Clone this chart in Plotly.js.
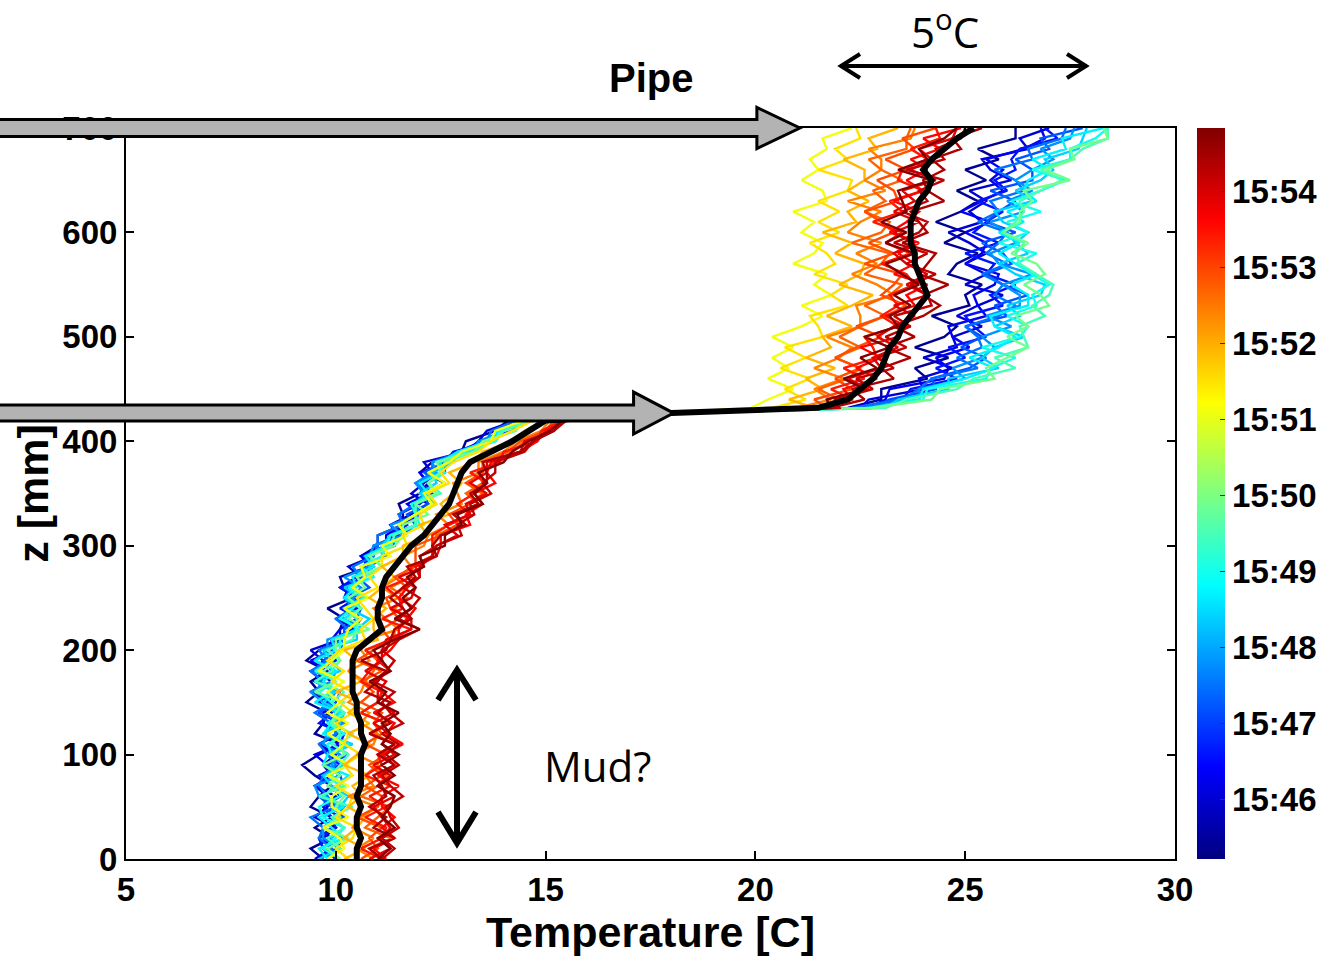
<!DOCTYPE html>
<html>
<head>
<meta charset="utf-8">
<script src="https://cdn.plot.ly/plotly-3.0.1.min.js"></script>
<style>
  html, body { margin: 0; padding: 0; background: #ffffff; }
  #chart { width: 1338px; height: 961px; }
</style>
</head>
<body>
<div id="chart"></div>
<script>
// Height of each sample above the bottom, mm
const depthMm = [0,10,20,30,40,50,60,70,80,90,100,110,120,130,140,150,160,170,180,190,
  200,210,220,230,240,250,260,270,280,290,300,310,320,330,340,350,360,370,380,390,400,410,420,
  427,432,440,450,460,470,480,490,500,510,520,530,540,550,560,570,580,590,600,610,620,630,640,
  650,660,670,680,690,700];

// Time of each profile, minutes past 15:00
const profileMinutes = [45.4, 46.0, 46.3, 46.6, 47.2, 47.5, 47.8, 48.4, 48.7, 49.0, 49.5, 49.9,
  51.1, 51.5, 51.9, 52.4, 52.7, 52.9, 53.4, 53.6, 53.9, 54.2, 54.4, 54.8];

// Temperature profiles [°C], one row per time, sampled at depthMm
const profileTemps = [
  [9.7,9.4,9.9,9.5,9.9,9.4,9.6,9.9,9.5,9.2,9.6,10.1,9.5,9.7,9.8,9.3,9.6,9.4,9.8,9.3,9.6,10.1,10.1,10.2,9.8,10.4,10.2,10.1,10.8,10.6,11.0,11.0,11.6,11.6,11.5,12.0,12.2,12.0,12.3,13.0,13.1,13.8,14.1, 17.6, 22.2,23.0,23.0,24.1,23.8,24.6,23.8,24.5,24.8,24.2,25.1,25.0,25.4,24.6,24.8,25.3,24.5,25.0,24.3,24.9,25.3,24.8,25.5,25.0,25.8,25.3,26.2,26.2],
  [9.5,9.9,9.7,10.0,9.5,9.8,10.0,9.5,9.9,9.7,10.0,9.6,10.1,9.7,9.7,9.9,9.4,9.9,9.5,9.7,9.4,10.1,10.5,10.0,10.5,10.2,10.3,10.6,10.3,10.9,10.9,11.5,11.3,11.8,12.2,11.8,12.1,12.3,12.1,13.1,13.4,13.6,14.3, 17.8, 22.5,22.7,24.0,23.9,24.7,24.0,24.8,24.7,25.4,24.8,25.3,25.9,25.0,25.5,25.0,25.5,25.1,24.6,25.4,25.1,25.5,25.1,26.1,25.6,25.4,26.5,26.3,27.0],
  [10.0,9.7,9.6,9.9,10.1,9.7,9.8,9.5,10.1,9.8,9.5,10.1,9.8,10.1,9.6,9.8,10.0,9.5,9.8,9.4,10.0,9.9,10.1,10.5,10.2,10.5,10.1,10.5,10.9,10.6,11.2,11.2,11.6,12.0,11.7,12.2,12.2,12.0,12.7,12.9,13.5,14.0,14.2, 17.9, 22.7,23.1,23.2,24.5,24.6,24.3,25.1,24.7,24.6,25.5,25.3,25.2,25.7,25.8,25.0,25.4,25.5,25.0,25.6,24.9,25.4,25.9,25.6,25.9,25.5,26.4,26.9,26.8],
  [10.0,9.7,9.6,10.0,9.9,9.7,10.1,9.9,9.6,10.1,9.8,10.1,10.2,9.6,9.9,9.6,9.9,9.7,9.4,10.0,9.9,9.9,10.4,10.6,10.1,10.5,10.1,10.7,10.7,10.7,11.4,11.3,11.7,11.5,12.0,12.3,12.0,12.6,12.6,12.8,13.7,13.9,14.2, 17.9, 22.3,23.5,23.7,24.8,24.3,25.0,24.6,25.5,25.2,25.0,25.9,25.6,26.2,25.5,25.7,25.0,25.8,25.2,25.5,25.9,25.3,26.0,25.7,26.2,26.1,26.3,27.2,26.9],
  [9.6,10.0,10.2,9.7,10.2,9.9,9.6,10.2,10.1,9.8,10.3,9.9,10.0,10.2,9.6,10.0,10.1,9.6,9.9,9.7,10.1,10.2,10.2,10.5,10.6,10.3,10.8,10.5,10.8,11.2,10.9,11.6,11.9,11.7,12.2,12.1,12.6,12.1,12.6,13.2,13.4,14.2,14.4, 18.0, 22.8,23.2,24.3,24.2,25.1,25.5,24.9,25.4,25.0,26.0,25.7,26.5,25.9,25.5,26.1,25.9,25.4,26.2,25.5,25.8,26.2,25.6,26.6,26.6,26.2,27.0,26.8,27.8],
  [9.8,9.9,9.6,9.7,9.4,10.0,9.8,9.6,9.7,10.0,9.8,9.6,10.0,9.9,9.5,9.9,9.5,9.7,9.4,9.8,9.6,10.2,10.3,10.0,10.4,10.2,10.4,10.6,10.4,10.9,11.0,11.0,11.6,11.5,11.9,12.2,11.9,12.3,12.3,13.0,13.6,13.7,14.3, 18.0, 22.3,23.5,23.9,24.2,25.3,24.8,25.4,25.3,25.0,25.8,26.2,25.7,25.9,25.4,26.0,25.5,25.8,26.0,25.3,25.8,25.6,26.4,26.2,25.7,26.6,26.5,27.3,27.4],
  [9.8,10.1,9.7,9.7,10.0,10.2,9.6,9.5,10.1,9.9,10.1,9.7,9.8,10.2,10.0,9.7,9.4,9.9,10.0,9.5,9.8,9.8,10.6,10.2,10.6,10.4,10.6,10.2,10.8,10.8,10.9,11.6,11.3,12.0,11.9,12.1,11.9,12.4,12.3,13.3,13.4,14.0,14.4, 17.9, 22.6,23.9,23.9,25.0,24.7,25.4,25.7,25.4,26.1,25.5,26.3,26.3,25.9,26.6,25.8,25.6,26.2,26.0,25.6,26.4,26.0,26.6,26.2,26.6,27.1,26.8,27.5,27.6],
  [9.6,10.1,9.9,10.2,9.7,10.1,10.3,9.9,9.7,10.2,9.9,10.4,9.7,10.1,10.2,9.7,10.0,9.5,10.1,9.9,9.7,10.5,10.5,10.8,10.3,10.6,10.2,10.9,10.8,11.1,11.1,11.3,11.9,11.9,12.4,12.0,12.4,12.3,12.8,12.9,13.8,14.0,14.5, 18.1, 23.1,23.4,24.6,24.6,25.8,25.4,25.7,26.4,25.7,26.3,26.0,26.8,26.9,26.2,25.8,26.5,26.2,26.5,25.9,25.7,26.6,26.2,26.8,27.1,26.9,27.7,27.8,27.9],
  [9.8,9.6,10.2,9.9,9.6,10.2,9.7,10.0,10.3,9.7,9.8,10.3,9.7,9.9,10.1,9.5,9.9,9.7,10.0,9.5,10.0,9.9,10.5,10.2,10.6,10.2,10.5,10.4,10.9,10.7,11.2,11.7,11.5,11.9,11.9,12.2,12.0,12.5,12.5,12.9,13.6,13.9,14.5, 18.1, 22.9,23.9,24.0,25.0,25.7,25.1,25.8,26.2,25.7,25.6,26.5,26.5,26.1,26.7,26.2,25.8,26.3,25.8,26.4,26.0,26.7,26.4,26.5,27.0,26.6,27.4,27.3,28.3],
  [10.1,9.7,10.0,10.2,9.7,9.6,10.1,10.1,9.8,10.3,9.9,9.8,10.2,9.8,10.2,9.9,9.6,10.0,9.5,9.9,10.1,10.1,10.6,10.1,10.4,10.7,10.3,10.9,10.6,11.1,11.2,11.3,12.0,11.9,11.8,12.4,12.2,12.6,12.4,13.1,13.8,13.9,14.5, 18.0, 22.7,24.0,24.1,25.5,25.6,26.2,25.4,26.3,26.5,26.0,26.7,26.6,27.0,26.6,26.2,26.7,25.8,26.5,26.0,26.8,26.1,26.8,27.4,26.6,27.5,27.5,28.1,28.4],
  [9.8,10.1,9.8,10.2,9.9,10.4,9.6,10.2,9.9,10.1,10.3,9.9,10.1,9.9,10.2,9.9,10.2,9.5,9.9,10.1,9.8,10.4,10.5,10.5,10.2,10.7,10.4,10.7,11.1,10.8,11.3,11.4,11.9,11.9,11.9,12.5,12.2,12.5,12.6,13.3,13.7,14.0,14.7, 18.2, 23.1,23.6,24.8,25.2,26.2,25.7,26.5,26.4,26.3,26.9,26.6,27.0,27.1,26.7,26.3,26.2,26.4,25.9,26.2,26.4,26.3,26.8,27.3,26.8,27.5,27.8,28.4,28.4],
  [10.1,9.8,10.3,9.7,10.1,10.0,10.2,9.8,10.1,9.7,10.2,10.1,10.4,9.9,10.0,10.2,9.5,10.0,9.7,10.1,10.0,10.0,10.8,10.3,10.6,10.3,10.7,10.5,11.1,10.8,11.4,11.6,11.6,12.2,11.9,12.4,12.2,12.5,12.4,13.3,13.5,14.3,14.4, 18.0, 22.8,24.2,24.4,25.7,25.5,26.0,26.5,26.0,26.5,26.2,27.0,26.8,26.4,26.9,26.7,26.1,26.5,25.9,26.3,26.3,26.6,26.4,27.5,26.9,27.6,27.5,28.4,28.3],
  [9.8,10.2,10.1,9.7,10.3,9.9,9.9,10.3,9.8,10.3,9.9,10.2,9.8,10.3,9.8,10.1,9.8,10.2,9.6,9.9,10.2,10.2,10.3,10.6,10.2,10.8,10.4,10.7,10.6,11.3,11.1,11.7,11.5,11.9,12.3,12.1,12.6,12.2,12.7,13.0,13.7,13.8,14.5, 17.8, 19.9,20.3,20.9,20.3,20.8,20.4,20.9,20.4,21.1,21.6,21.1,21.8,21.4,21.7,20.9,21.4,21.6,21.1,21.4,20.9,21.7,21.6,21.1,21.5,21.3,21.7,21.6,22.3],
  [10.3,10.0,10.4,10.5,10.0,10.3,10.4,10.0,10.4,10.2,10.6,10.2,10.3,10.0,10.4,10.1,10.4,9.9,10.2,9.8,10.1,10.7,10.6,10.9,10.7,10.5,11.0,10.8,11.1,11.1,11.7,11.6,12.1,12.0,12.4,12.2,12.7,12.5,12.8,13.4,13.7,14.2,14.7, 17.9, 20.4,21.2,20.7,21.3,20.6,21.2,20.7,21.6,21.5,21.3,22.2,21.8,22.2,21.4,21.9,21.7,21.3,22.0,21.5,22.0,21.5,22.2,22.3,21.5,22.2,21.9,22.5,22.4],
  [10.2,10.7,10.2,10.5,10.7,10.3,10.6,10.4,10.8,10.2,10.5,10.8,10.3,10.8,10.3,10.6,10.0,10.6,10.3,10.5,10.2,11.0,10.9,10.9,11.2,10.8,11.1,11.4,11.1,11.6,11.6,12.2,12.0,12.7,12.5,12.8,13.0,12.7,13.3,13.5,14.2,14.5,15.0, 18.0, 21.4,20.8,21.6,21.2,21.9,21.2,21.8,21.6,22.3,21.7,22.3,22.8,22.0,22.5,22.6,21.9,22.3,21.6,22.4,22.2,22.7,22.2,22.6,22.6,22.1,22.9,22.7,23.4],
  [10.9,10.5,10.9,10.4,10.6,11.0,10.3,10.9,10.7,11.0,10.5,10.9,11.0,10.6,10.8,10.3,10.6,10.7,10.3,10.8,10.6,10.7,11.5,11.2,10.9,11.5,11.1,11.5,11.8,11.6,12.1,12.2,12.7,12.4,13.0,12.9,12.8,13.4,13.4,14.0,14.3,14.9,15.1, 18.1, 21.0,21.8,21.4,22.1,21.4,22.0,22.3,21.7,22.5,22.5,22.4,23.3,22.9,22.3,22.9,22.4,23.0,22.2,22.5,23.0,22.2,23.1,22.6,23.0,23.0,22.7,23.7,23.8],
  [11.1,10.8,11.3,10.7,11.0,11.3,10.6,11.0,11.2,10.9,11.1,11.4,10.9,11.2,10.6,11.0,11.1,10.7,10.9,11.0,10.7,11.4,11.4,11.7,11.4,11.7,11.3,11.8,11.8,12.3,12.3,12.4,12.9,12.9,13.4,13.1,13.5,13.4,13.8,14.2,14.5,15.0,15.3, 18.2, 21.4,22.0,21.5,22.2,22.5,21.9,22.5,22.0,22.5,23.1,22.6,23.2,23.5,22.6,23.0,23.2,22.3,23.0,23.2,22.6,23.1,22.8,23.5,23.0,22.7,23.6,23.6,23.7],
  [10.6,11.0,10.8,11.1,10.5,11.0,11.1,10.7,11.1,10.8,11.2,10.7,11.1,10.9,11.1,10.6,10.9,10.6,11.1,10.5,10.9,11.3,11.1,11.5,11.3,11.2,11.7,11.4,11.9,11.9,11.9,12.5,12.9,12.7,13.2,13.5,13.1,13.5,13.5,14.1,14.4,15.0,15.2, 18.2, 21.7,21.4,22.3,21.9,22.5,21.9,22.4,23.0,22.4,23.1,23.6,23.0,23.3,23.5,22.6,23.3,22.7,23.3,23.0,22.6,23.4,23.3,22.9,23.6,23.1,23.8,23.5,24.3],
  [11.1,10.6,11.1,11.2,10.7,11.2,10.8,11.3,10.7,11.1,11.0,11.4,10.8,11.2,10.6,11.0,11.1,10.6,10.8,11.1,10.7,11.3,11.8,11.1,11.6,11.5,11.2,11.8,11.8,12.3,12.3,12.3,12.7,13.2,12.9,13.3,13.6,13.2,13.9,14.0,14.8,14.9,15.4, 18.2, 21.4,22.3,21.8,22.6,22.1,22.9,22.8,22.6,23.4,23.0,23.4,23.2,23.8,23.6,23.0,23.7,23.1,23.5,22.8,23.5,23.2,24.0,23.4,23.5,24.1,23.7,24.4,24.3],
  [11.2,10.9,11.4,11.1,11.4,11.1,11.1,11.5,11.0,11.4,11.1,11.6,11.2,11.4,10.9,11.4,11.1,10.9,11.3,11.0,11.3,11.5,11.5,11.7,11.9,11.5,11.7,12.0,11.9,12.4,12.5,12.5,13.2,13.1,13.5,13.3,13.8,13.6,13.7,14.4,14.8,15.0,15.5, 18.3, 21.6,22.3,22.1,22.9,22.4,23.0,22.5,23.4,23.6,23.1,23.8,23.6,24.1,23.3,23.8,23.4,23.9,23.2,23.6,23.9,23.3,24.0,23.6,24.1,23.7,24.4,24.0,24.9],
  [10.8,11.3,11.1,11.3,11.1,10.9,11.4,11.0,11.3,10.9,11.4,11.1,11.3,10.9,11.4,11.0,11.0,11.2,10.7,11.1,11.1,11.2,11.8,11.8,11.3,11.8,11.9,11.5,12.1,12.0,12.4,12.9,12.6,13.2,13.1,13.6,13.2,13.6,13.6,14.4,14.5,15.2,15.4, 18.3, 22.0,21.9,22.7,22.2,23.0,22.8,23.4,22.9,23.3,23.8,23.3,24.1,23.6,24.1,23.6,23.3,23.8,23.3,23.9,23.3,23.8,23.5,24.3,23.7,24.2,23.9,24.7,24.8],
  [11.1,11.4,11.1,11.5,11.3,11.2,11.6,11.3,11.1,11.5,11.2,11.5,11.1,11.6,11.3,11.1,11.4,10.9,11.2,11.4,11.1,11.5,12.0,11.5,11.8,12.0,11.6,12.0,12.0,12.3,12.4,13.0,12.9,13.3,13.2,13.7,13.5,13.8,13.8,14.5,14.7,15.2,15.5, 18.3, 22.0,21.9,22.8,22.4,23.3,22.9,23.6,23.1,23.7,23.3,24.2,24.1,23.7,24.3,23.6,24.1,23.3,23.9,24.1,23.5,24.1,23.9,24.5,23.6,24.5,24.3,24.9,25.0],
  [11.1,10.8,11.4,10.9,11.2,10.8,11.2,11.1,10.9,11.4,11.0,11.4,10.8,11.3,11.0,11.3,10.7,11.0,11.2,10.6,11.2,11.3,11.4,11.8,11.6,11.3,11.6,11.9,11.7,12.4,12.3,12.5,13.1,12.8,13.4,13.2,13.6,13.6,13.5,14.4,14.7,15.2,15.4, 18.2, 21.8,22.6,22.3,23.3,23.0,23.7,23.1,23.8,23.3,24.0,24.4,24.0,24.6,23.9,24.1,24.3,23.5,24.1,23.9,23.7,24.5,24.1,24.0,24.5,24.2,24.9,24.7,25.4],
  [11.0,11.3,11.0,11.4,11.1,11.3,11.4,11.0,11.4,11.1,11.5,11.1,11.3,11.1,11.5,11.0,11.2,10.8,11.3,11.1,10.9,11.4,12.0,11.4,11.8,11.6,11.9,11.7,12.1,12.0,12.6,12.6,13.0,12.9,13.5,13.3,13.6,13.4,14.0,14.2,14.6,15.1,15.4, 18.3, 21.8,21.7,22.6,22.1,22.9,22.5,23.2,22.6,23.4,23.2,23.7,23.3,23.9,23.5,23.1,23.8,23.1,23.6,23.0,23.6,23.5,23.4,24.2,23.4,24.1,23.9,24.5,24.8]
];

// Average profile [°C], sampled at depthMm
const meanTemp = [10.5,10.5,10.6,10.5,10.5,10.6,10.5,10.6,10.6,10.6,10.6,10.7,10.6,10.6,10.5,10.5,10.4,10.4,10.4,10.4,
  10.5,10.8,11.1,11.0,11.0,11.1,11.1,11.2,11.4,11.6,11.8,12.1,12.3,12.5,12.7,12.8,12.9,13.0,13.2,13.7,14.2,14.6,15.0,
  18.0, 21.5,22.2,22.5,22.8,23.0,23.1,23.2,23.4,23.5,23.7,23.9,24.1,24.0,23.9,23.8,23.8,23.7,23.7,23.7,23.8,23.9,24.1,
  24.2,24.0,24.2,24.5,24.8,25.2];

// Colour bar span and labels (minutes past 15:00)
const timeRange = [45.22, 54.83];
const timeTickVals = [46, 47, 48, 49, 50, 51, 52, 53, 54];
const timeTickText = ['15:46', '15:47', '15:48', '15:49', '15:50', '15:51', '15:52', '15:53', '15:54'];

// Axes
const tempRange = [5, 30];
const tempTicks = [5, 10, 15, 20, 25, 30];
const depthRange = [0, 700];
const depthTicks = [0, 100, 200, 300, 400, 500, 600, 700];

// Pipe inlet / outlet positions the arrows point at [°C, mm]
const pipeInlet = [21.06, 700];
const pipeOutlet = [18.05, 427];

// ---------------------------------------------------------------
const W = 1338, H = 961;
const M = { l: 126, r: 163, t: 128, b: 102 };
const plotW = W - M.l - M.r, plotH = H - M.t - M.b;
const FONT = 'Liberation Sans, Arial, Helvetica, sans-serif';
const NOTE_FONT = 'Open Sans, Noto Sans, sans-serif';

// MATLAB-style jet
function jet(f) {
  const c = v => Math.max(0, Math.min(1, v));
  const r = c(Math.min(4 * f - 1.5, -4 * f + 4.5));
  const g = c(Math.min(4 * f - 0.5, -4 * f + 3.5));
  const b = c(Math.min(4 * f + 0.5, -4 * f + 2.5));
  return `rgb(${Math.round(r * 255)},${Math.round(g * 255)},${Math.round(b * 255)})`;
}
const jetScale = [[0, 'rgb(0,0,128)'], [0.125, 'rgb(0,0,255)'], [0.375, 'rgb(0,255,255)'],
  [0.625, 'rgb(255,255,0)'], [0.875, 'rgb(255,0,0)'], [1, 'rgb(128,0,0)']];

const traces = profileTemps.map((temps, i) => ({
  type: 'scatter', mode: 'lines',
  x: temps, y: depthMm,
  line: { color: jet((profileMinutes[i] - timeRange[0]) / (timeRange[1] - timeRange[0])), width: 2.4 },
  hoverinfo: 'skip', showlegend: false
}));

traces.push({
  type: 'scatter', mode: 'lines', x: meanTemp, y: depthMm,
  line: { color: '#000000', width: 6 }, hoverinfo: 'skip', showlegend: false
});

// carrier for the time colour bar (points sit outside the axes)
traces.push({
  type: 'scatter', mode: 'markers', x: [-50, -50], y: [-50, -50],
  marker: {
    color: timeRange, cmin: timeRange[0], cmax: timeRange[1], colorscale: jetScale,
    showscale: true, size: 1,
    colorbar: {
      x: (1197 - M.l) / plotW, xanchor: 'left', xpad: 0,
      y: 0.5, yanchor: 'middle', ypad: 0, len: 1, lenmode: 'fraction',
      thickness: 28, thicknessmode: 'pixels', outlinewidth: 0,
      tickvals: timeTickVals, ticktext: timeTickText,
      ticks: 'inside', ticklen: 5, tickcolor: '#333', tickwidth: 1,
      tickfont: { family: FONT, size: 33, color: '#000', weight: 700 }
    }
  },
  hoverinfo: 'skip', showlegend: false
});

// paper-coordinate helpers
const pxX = p => (p - M.l) / plotW;
const pxY = p => (H - M.b - p) / plotH;
const dataX = t => (t - tempRange[0]) / (tempRange[1] - tempRange[0]);
const dataY = z => (z - depthRange[0]) / (depthRange[1] - depthRange[0]);

function blockArrow(tipX, tipY, headLen, headHalf, shaftHalf, startX) {
  const hx = headLen / plotW, hh = headHalf / plotH, sh = shaftHalf / plotH;
  const bx = tipX - hx;
  return `M ${startX},${tipY + sh} L ${bx},${tipY + sh} L ${bx},${tipY + hh} L ${tipX},${tipY} ` +
         `L ${bx},${tipY - hh} L ${bx},${tipY - sh} L ${startX},${tipY - sh} Z`;
}
const seg = pts => pts.map((p, k) => (k ? 'L ' : 'M ') + pxX(p[0]) + ',' + pxY(p[1])).join(' ');

const shapes = [
  { type: 'path', xref: 'paper', yref: 'paper', layer: 'above',
    path: blockArrow(dataX(pipeInlet[0]), dataY(pipeInlet[1]), 43, 20.5, 8.5, pxX(-20)),
    fillcolor: '#b3b3b3', line: { color: '#000', width: 3 } },
  { type: 'path', xref: 'paper', yref: 'paper', layer: 'above',
    path: blockArrow(dataX(pipeOutlet[0]), dataY(pipeOutlet[1]), 40, 21, 8, pxX(-20)),
    fillcolor: '#b3b3b3', line: { color: '#000', width: 3 } },
  // 5 °C scale arrow
  { type: 'path', xref: 'paper', yref: 'paper', layer: 'above',
    path: seg([[840, 66], [1087, 66]]) + ' ' + seg([[860, 54], [841, 66], [860, 78]]) + ' ' +
          seg([[1067, 54], [1086, 66], [1067, 78]]),
    line: { color: '#000', width: 4 } },
  // mud layer arrow
  { type: 'path', xref: 'paper', yref: 'paper', layer: 'above',
    path: seg([[457, 672], [457, 842]]) + ' ' + seg([[438, 700], [457, 670], [476, 700]]) + ' ' +
          seg([[438, 812], [457, 843], [476, 812]]),
    line: { color: '#000', width: 6 } }
];

const annotations = [
  { xref: 'paper', yref: 'paper', x: pxX(651), y: pxY(78), text: 'Pipe', showarrow: false,
    xanchor: 'center', yanchor: 'middle', font: { family: FONT, size: 40, color: '#000', weight: 700 } },
  { xref: 'paper', yref: 'paper', x: pxX(945), y: pxY(30), text: '5<sup>o</sup>C', showarrow: false,
    xanchor: 'center', yanchor: 'middle', font: { family: NOTE_FONT, size: 42, color: '#000' } },
  { xref: 'paper', yref: 'paper', x: pxX(597), y: pxY(765), text: 'Mud?', showarrow: false,
    xanchor: 'center', yanchor: 'middle', font: { family: NOTE_FONT, size: 42, color: '#000' } }
];

const axisCommon = {
  ticks: 'inside', ticklen: 8, tickwidth: 2, tickcolor: '#000',
  mirror: 'ticks', showline: true, linecolor: '#000', linewidth: 2,
  showgrid: false, zeroline: false, automargin: false, fixedrange: true,
  tickfont: { family: FONT, size: 33, color: '#000', weight: 700 }
};

const layout = {
  width: W, height: H, margin: M,
  paper_bgcolor: '#ffffff', plot_bgcolor: '#ffffff',
  showlegend: false, hovermode: false,
  xaxis: Object.assign({}, axisCommon, {
    range: tempRange, tickmode: 'array', tickvals: tempTicks,
    title: { text: 'Temperature [C]', standoff: 6,
             font: { family: FONT, size: 43, color: '#000', weight: 700 } }
  }),
  yaxis: Object.assign({}, axisCommon, {
    range: depthRange, tickmode: 'array', tickvals: depthTicks,
    title: { text: 'z [mm]', standoff: 0,
             font: { family: FONT, size: 43, color: '#000', weight: 700 } }
  }),
  shapes: shapes,
  annotations: annotations
};

Plotly.newPlot('chart', traces, layout, { staticPlot: true, displayModeBar: false });
</script>
</body>
</html>
